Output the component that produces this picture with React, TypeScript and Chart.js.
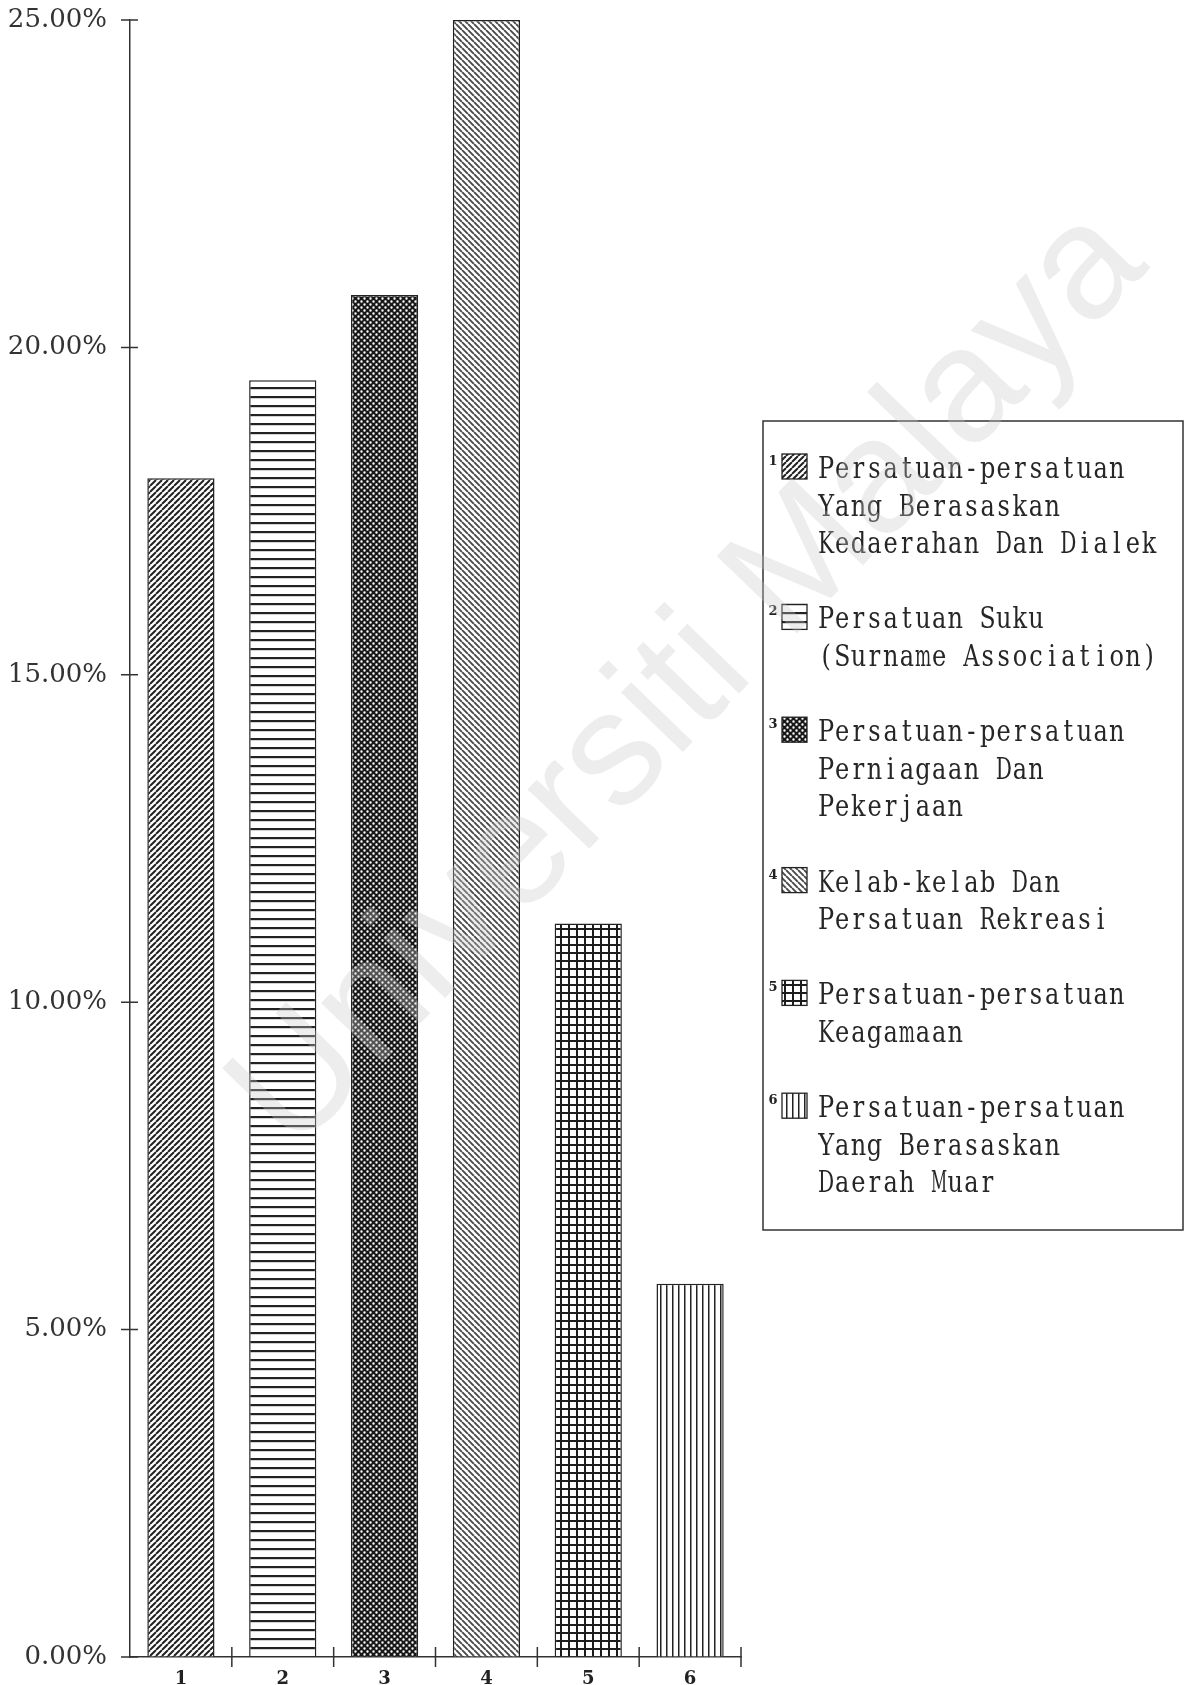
import React, { useEffect, useRef } from 'react';
import { Chart, registerables } from 'chart.js';

Chart.register(...registerables);

// ---- data ----
const categories = ['1', '2', '3', '4', '5', '6'];
const shares = [18.0, 19.5, 20.8, 25.0, 11.2, 5.7];
const yTickValues = [0, 5, 10, 15, 20, 25];
const legendNumbers = ['1', '2', '3', '4', '5', '6'];
const legendLines = [
  ['Persatuan-persatuan', 'Yang Berasaskan', 'Kedaerahan Dan Dialek'],
  ['Persatuan Suku', '(Surname Association)'],
  ['Persatuan-persatuan', 'Perniagaan Dan', 'Pekerjaan'],
  ['Kelab-kelab Dan', 'Persatuan Rekreasi'],
  ['Persatuan-persatuan', 'Keagamaan'],
  ['Persatuan-persatuan', 'Yang Berasaskan', 'Daerah Muar'],
];
const patternKinds = ['diagUp', 'horiz', 'dots', 'diagDown', 'grid', 'vert'];
const watermarkText = 'Universiti Malaya';

const W = 1186;
const H = 1685;

function makePattern(ctx: CanvasRenderingContext2D, kind: string): CanvasPattern {
  const c = document.createElement('canvas');
  let s = 6;
  if (kind === 'horiz') s = 9;
  if (kind === 'grid') s = 8;
  c.width = s;
  c.height = s;
  const g = c.getContext('2d') as CanvasRenderingContext2D;
  g.fillStyle = '#ffffff';
  g.fillRect(0, 0, s, s);
  if (kind === 'diagUp' || kind === 'diagDown') {
    g.strokeStyle = kind === 'diagUp' ? '#222' : '#4a4a4a';
    g.lineWidth = kind === 'diagUp' ? 2 : 1.9;
    g.beginPath();
    for (let k = -1; k <= 1; k++) {
      if (kind === 'diagUp') {
        g.moveTo(k * s, s);
        g.lineTo(k * s + s, 0);
      } else {
        g.moveTo(k * s, 0);
        g.lineTo(k * s + s, s);
      }
    }
    g.stroke();
  } else if (kind === 'horiz') {
    g.fillStyle = '#222';
    g.fillRect(0, 0, s, 2.2);
  } else if (kind === 'dots') {
    g.fillStyle = '#181818';
    g.fillRect(0, 0, s, s);
    g.fillStyle = '#ffffff';
    g.beginPath();
    g.arc(1.5, 1.5, 1.2, 0, Math.PI * 2);
    g.arc(4.5, 4.5, 1.2, 0, Math.PI * 2);
    g.fill();
  } else if (kind === 'grid') {
    g.fillStyle = '#1c1c1c';
    g.fillRect(0, 0, s, 2);
    g.fillRect(0, 0, 2, s);
  } else if (kind === 'vert') {
    g.fillStyle = '#222';
    g.fillRect(0, 0, 1.5, s);
  }
  return ctx.createPattern(c, 'repeat') as CanvasPattern;
}

export default function App() {
  const ref = useRef<HTMLCanvasElement | null>(null);

  useEffect(() => {
    document.body.style.margin = '0';
    const canvas = ref.current;
    if (!canvas) return;
    const ctx0 = canvas.getContext('2d') as CanvasRenderingContext2D;
    const patterns = patternKinds.map((k) => makePattern(ctx0, k));

    const decor = {
      id: 'decor',
      beforeDraw(chart: any) {
        const { ctx } = chart;
        ctx.save();
        ctx.fillStyle = '#ffffff';
        ctx.fillRect(0, 0, chart.width, chart.height);
        ctx.restore();
      },
      afterDraw(chart: any) {
        const { ctx, chartArea } = chart;
        const xs = chart.scales.x;
        const ys = chart.scales.y;
        ctx.save();
        ctx.strokeStyle = '#333';
        ctx.lineWidth = 1.5;
        // y tick marks crossing the axis
        ctx.beginPath();
        yTickValues.forEach((v) => {
          const py = ys.getPixelForValue(v);
          ctx.moveTo(chartArea.left - 9, py);
          ctx.lineTo(chartArea.left + 8, py);
        });
        // x tick marks at category boundaries
        const n = categories.length;
        for (let i = 1; i <= n; i++) {
          const px = xs.left + (i * xs.width) / n;
          ctx.moveTo(px, chartArea.bottom - 10);
          ctx.lineTo(px, chartArea.bottom + 10);
        }
        ctx.stroke();

        // legend
        const boxL = 763, boxT = 421, boxR = 1183, boxB = 1230;
        ctx.strokeStyle = '#333';
        ctx.lineWidth = 1.5;
        ctx.strokeRect(boxL, boxT, boxR - boxL, boxB - boxT);
        const lineH = 37.6;
        const base0 = 478;
        const textX = 818;
        const cell = 16.15;
        let idx = 0;
        legendLines.forEach((lines, gi) => {
          const baseline = base0 + idx * lineH;
          // swatch
          ctx.fillStyle = patterns[gi];
          ctx.fillRect(782, baseline - 24, 25, 25);
          ctx.strokeStyle = '#222';
          ctx.lineWidth = 1.3;
          ctx.strokeRect(782, baseline - 24, 25, 25);
          // number
          ctx.fillStyle = '#222';
          ctx.font = 'bold 13px "DejaVu Serif"';
          ctx.textAlign = 'center';
          ctx.textBaseline = 'alphabetic';
          ctx.fillText(legendNumbers[gi], 773, baseline - 13);
          // text lines, monospaced cells
          ctx.font = '30px "DejaVu Serif"';
          lines.forEach((ln, li) => {
            const by = baseline + li * lineH;
            for (let ci = 0; ci < ln.length; ci++) {
              const ch = ln[ci];
              if (ch === ' ') continue;
              const w = ctx.measureText(ch).width;
              const sx = Math.min(0.8, (cell * 1.0) / w);
              ctx.save();
              ctx.translate(textX + ci * cell + cell / 2, by);
              ctx.scale(sx, 1);
              ctx.fillStyle = '#262626';
              ctx.textAlign = 'center';
              ctx.fillText(ch, 0, 0);
              ctx.restore();
            }
          });
          idx += lines.length + 1;
        });

        // watermark
        ctx.save();
        ctx.translate(690, 680);
        ctx.rotate((-46 * Math.PI) / 180);
        ctx.font = '162px "Liberation Sans"';
        ctx.textAlign = 'center';
        ctx.textBaseline = 'middle';
        ctx.fillStyle = 'rgba(200,200,200,0.33)';
        ctx.fillText(watermarkText, 0, 0);
        ctx.restore();

        ctx.restore();
      },
    };

    const chart = new Chart(canvas, {
      type: 'bar',
      data: {
        labels: categories,
        datasets: [
          {
            data: shares,
            backgroundColor: patterns,
            borderColor: '#222',
            borderWidth: 1.5,
            barPercentage: 0.66,
            categoryPercentage: 1,
          },
        ],
      },
      options: {
        responsive: false,
        animation: false,
        devicePixelRatio: 1,
        layout: { autoPadding: false, padding: { left: 0, right: W - 741, top: 20, bottom: 0 } },
        plugins: {
          legend: { display: false },
          tooltip: { enabled: false },
        },
        scales: {
          x: {
            grid: {
              display: true,
              drawOnChartArea: false,
              drawTicks: true,
              tickLength: 12,
              tickColor: 'rgba(0,0,0,0)',
              color: 'rgba(0,0,0,0)',
            },
            border: { display: true, color: '#333', width: 1.5 },
            ticks: {
              padding: 0,
              color: '#222',
              font: { family: 'DejaVu Serif', size: 18, weight: 'bold' },
            },
            afterFit: (s: any) => {
              s.height = 28;
            },
          },
          y: {
            min: 0,
            max: 25,
            afterBuildTicks: (s: any) => {
              s.ticks = yTickValues.map((v) => ({ value: v }));
            },
            grid: {
              display: true,
              drawOnChartArea: false,
              drawTicks: true,
              tickLength: 23,
              tickColor: 'rgba(0,0,0,0)',
              color: 'rgba(0,0,0,0)',
            },
            border: { display: true, color: '#333', width: 1.5 },
            ticks: {
              padding: 0,
              color: '#333',
              font: { family: 'DejaVu Serif', size: 26 },
              callback: (v: any) => Number(v).toFixed(2) + '%',
            },
            afterFit: (s: any) => {
              s.width = 130;
            },
          },
        },
      } as any,
      plugins: [decor],
    });

    return () => chart.destroy();
  }, []);

  return (
    <canvas
      ref={ref}
      width={W}
      height={H}
      style={{ display: 'block', width: W + 'px', height: H + 'px' }}
    />
  );
}
